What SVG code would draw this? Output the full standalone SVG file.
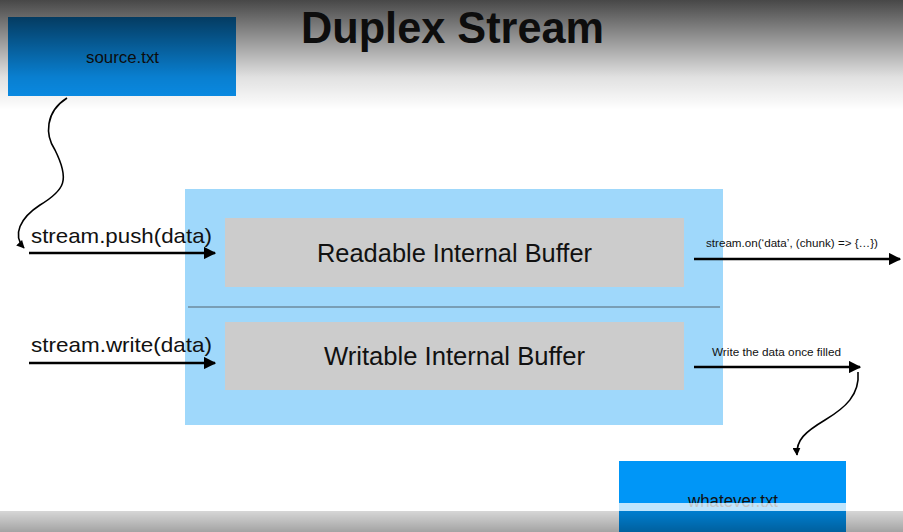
<svg xmlns="http://www.w3.org/2000/svg" width="903" height="532" viewBox="0 0 903 532">
<defs>
<linearGradient id="topShade" x1="0" y1="0" x2="0" y2="1">
<stop offset="0" stop-color="#000" stop-opacity="0.72"/>
<stop offset="0.35" stop-color="#000" stop-opacity="0.42"/>
<stop offset="0.7" stop-color="#000" stop-opacity="0.12"/>
<stop offset="1" stop-color="#000" stop-opacity="0"/>
</linearGradient>
<linearGradient id="botShade" x1="0" y1="0" x2="0" y2="1">
<stop offset="0" stop-color="#000" stop-opacity="0.16"/>
<stop offset="1" stop-color="#000" stop-opacity="0.36"/>
</linearGradient>
<marker id="ah" viewBox="0 0 10 10" refX="9" refY="5" markerWidth="5" markerHeight="5" orient="auto" markerUnits="strokeWidth">
<path d="M0,0 L10,5 L0,10 z" fill="#000"/>
</marker>
<marker id="ahs" viewBox="0 0 10 10" refX="9" refY="5" markerWidth="5" markerHeight="5" orient="auto" markerUnits="strokeWidth">
<path d="M0,0 L10,5 L0,10 z" fill="#000"/>
</marker>
</defs>
<style>
.t{font-family:"Liberation Sans","Helvetica",Arial,sans-serif;fill:#111}
.buf{fill:#cccccc}
.file{fill:#0a90ec}
.conn{fill:none;stroke:#000;stroke-width:2.5}
.curve{fill:none;stroke:#000;stroke-width:1.6}
</style>
<rect x="0" y="0" width="903" height="532" fill="#ffffff"/>

<g id="duplex">
<rect x="185" y="189" width="538" height="236" fill="#9fd8fb"/>
<line x1="188" y1="307" x2="720" y2="307" stroke="#333" stroke-width="0.7"/>
</g>
<g id="readable">
<rect class="buf" x="225" y="218" width="459" height="69"/>
<text class="t" x="317" y="262" font-size="25" textLength="275" lengthAdjust="spacingAndGlyphs">Readable Internal Buffer</text>
</g>
<g id="writable">
<rect class="buf" x="225" y="322" width="459" height="68"/>
<text class="t" x="324" y="365" font-size="25" textLength="261" lengthAdjust="spacingAndGlyphs">Writable Internal Buffer</text>
</g>
<g id="source">
<rect class="file" x="8" y="17" width="228" height="79"/>
<text class="t" x="86" y="63" font-size="16" textLength="73" lengthAdjust="spacingAndGlyphs">source.txt</text>
</g>
<g id="whatever">
<rect x="619" y="461" width="227" height="71" fill="#0096f7"/>
<text class="t" x="688" y="507" font-size="18" textLength="90" lengthAdjust="spacingAndGlyphs">whatever.txt</text>
</g>

<g id="connectors">
<path class="curve" d="M67,98 C45,112 45,135 55,150 C70,180 65,190 40,205 C20,218 12,235 24,248" marker-end="url(#ahs)"/>
<line class="conn" x1="29" y1="253" x2="215" y2="253" marker-end="url(#ah)"/>
<line class="conn" x1="29" y1="363" x2="215" y2="363" marker-end="url(#ah)"/>
<line class="conn" x1="694" y1="259" x2="900" y2="259" marker-end="url(#ah)"/>
<line class="conn" x1="694" y1="367" x2="860" y2="367" marker-end="url(#ah)"/>
<path class="curve" d="M858,372 C860,395 845,408 825,420 C805,432 796,440 797,455" marker-end="url(#ahs)"/>
<text class="t" x="31" y="243" font-size="21" textLength="181" lengthAdjust="spacingAndGlyphs">stream.push(data)</text>
<text class="t" x="31" y="352" font-size="21" textLength="181" lengthAdjust="spacingAndGlyphs">stream.write(data)</text>
<text class="t" x="706" y="247" font-size="11.5" fill="#333" textLength="172" lengthAdjust="spacingAndGlyphs">stream.on(‘data’, (chunk) =&gt; {…})</text>
<text class="t" x="712" y="356" font-size="11.5" fill="#333" textLength="129" lengthAdjust="spacingAndGlyphs">Write the data once filled</text>
</g>

<rect x="0" y="0" width="903" height="110" fill="url(#topShade)"/>
<text class="t" x="301" y="43" font-size="44" font-weight="bold" textLength="303" lengthAdjust="spacingAndGlyphs" style="fill:#0d0d0d">Duplex Stream</text>
<rect x="0" y="503" width="903" height="8" fill="#ffffff" fill-opacity="0.75"/>
<rect x="0" y="511" width="903" height="21" fill="url(#botShade)"/>
</svg>
